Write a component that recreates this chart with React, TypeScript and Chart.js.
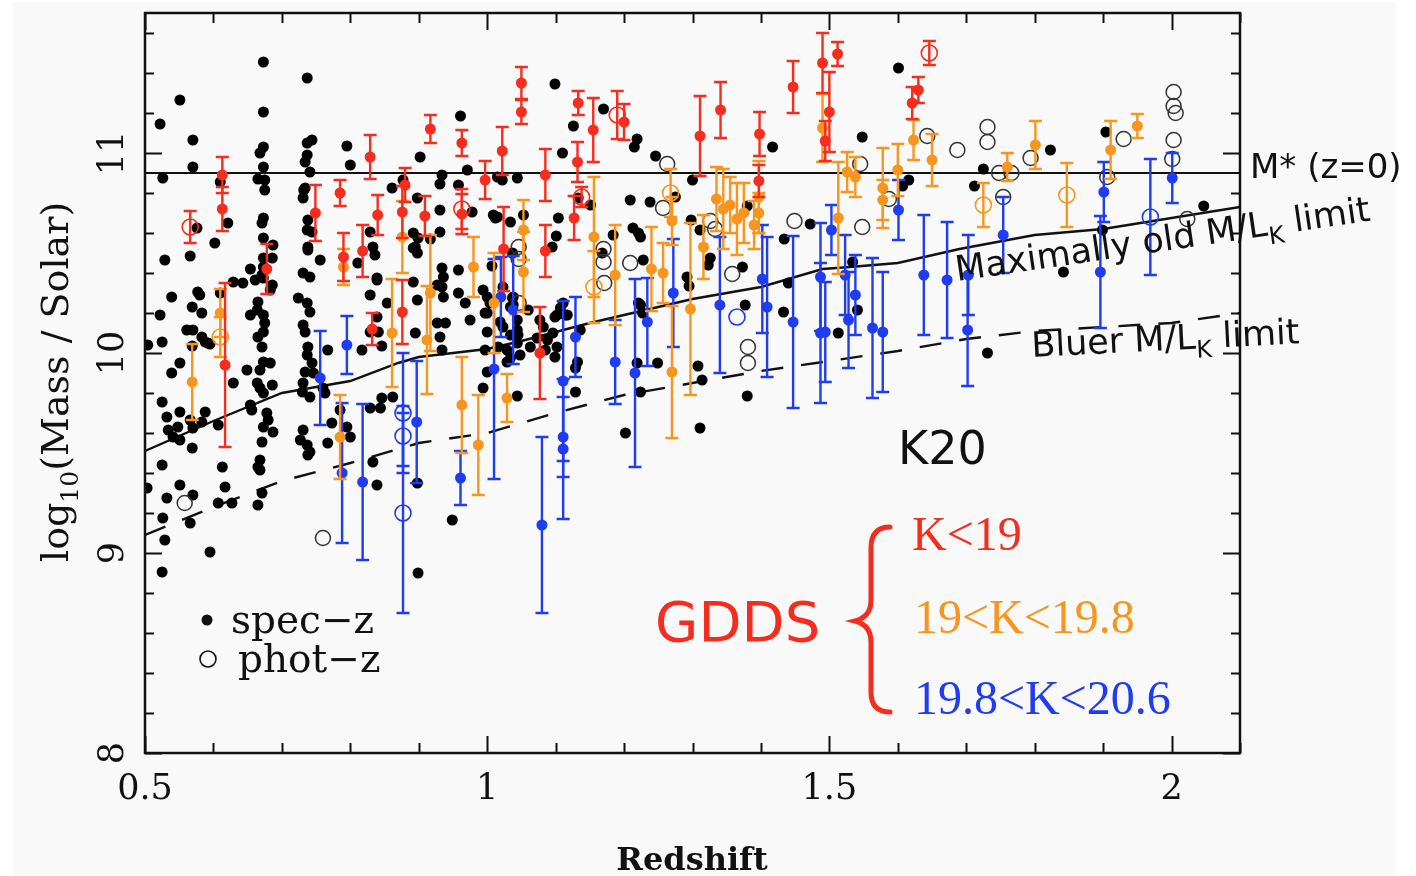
import React, { useEffect, useRef } from 'react';
import { Chart, registerables } from 'chart.js';
Chart.register(...registerables);

// ---------- data (x = redshift, y = log10 mass) ----------
const specZ: number[][] = [
[0.57,10.93],[0.526,10.875],[0.61,10.855],[0.668,11.0],[0.673,10.93],[0.665,10.87],[0.675,10.865],[0.675,10.815],[0.737,10.99],[0.734,10.955],[0.741,10.905],[0.734,10.825],[0.731,10.775],[0.8,10.94],[0.861,10.825],[0.877,10.865],[0.898,10.775],[0.576,10.625],[0.621,10.65],[0.602,10.55],[0.529,10.465],[0.566,10.485],[0.673,10.675],[0.671,10.65],[0.673,10.575],[0.687,10.54],[0.673,10.475],[0.686,10.475],[0.654,10.42],[0.673,10.43],[0.671,10.39],[0.738,10.665],[0.737,10.615],[0.744,10.605],[0.738,10.53],[0.738,10.515],[0.756,10.465],[0.731,10.4],[0.741,10.38],[0.811,10.45],[0.829,10.605],[0.833,10.53],[0.836,10.49],[0.839,10.375],[0.829,10.29],[0.854,10.25],[0.892,10.6],[0.898,10.5],[0.892,10.355],[0.629,10.355],[0.643,10.35],[0.661,10.365],[0.673,10.375],[0.686,10.34],[0.683,10.315],[0.539,10.28],[0.577,10.305],[0.58,10.29],[0.61,10.3],[0.569,10.23],[0.583,10.2],[0.522,10.19],[0.665,10.255],[0.664,10.215],[0.654,10.19],[0.673,10.19],[0.724,10.275],[0.737,10.25],[0.741,10.205],[0.731,10.14],[0.734,10.105],[0.561,10.115],[0.57,10.115],[0.583,10.08],[0.592,10.05],[0.525,10.055],[0.504,10.04],[0.665,10.08],[0.673,10.105],[0.675,10.15],[0.829,10.105],[0.839,10.18],[0.841,10.105],
[0.569,10.035],[0.588,10.055],[0.595,10.045],[0.671,10.03],[0.738,10.03],[0.767,10.015],[0.817,10.015],[0.846,10.035],[0.551,9.95],[0.539,9.9],[0.649,9.915],[0.629,9.85],[0.673,9.955],[0.683,9.95],[0.668,9.915],[0.664,9.85],[0.668,9.825],[0.673,9.8],[0.686,9.84],[0.737,9.99],[0.744,9.95],[0.734,9.905],[0.746,9.9],[0.731,9.85],[0.73,9.805],[0.741,9.78],[0.76,9.825],[0.763,9.8],[0.525,9.755],[0.532,9.68],[0.551,9.705],[0.588,9.705],[0.583,9.655],[0.566,9.665],[0.548,9.63],[0.534,9.615],[0.541,9.58],[0.551,9.565],[0.57,9.625],[0.654,9.74],[0.656,9.715],[0.678,9.7],[0.68,9.665],[0.673,9.63],[0.687,9.605],[0.671,9.555],[0.569,9.525],[0.607,9.64],[0.773,9.65],[0.785,9.715],[0.829,9.725],[0.844,9.725],[0.846,9.775],[0.862,9.78],[0.795,9.63],[0.8,9.58],[0.731,9.615],[0.727,9.565],[0.737,9.54],[0.741,9.505],[0.738,9.49],[0.767,9.55],[0.525,9.44],[0.613,9.43],[0.668,9.465],[0.668,9.415],[0.665,9.43],[0.551,9.34],[0.617,9.33],[0.57,9.29],[0.532,9.275],[0.607,9.25],[0.627,9.25],[0.665,9.24],[0.671,9.3],[0.503,9.325],[0.526,9.175],[0.566,9.15],[0.529,9.065],[0.595,9.005],[0.833,9.455],[0.839,9.34],[0.898,9.35],[0.525,8.905],[0.899,8.9],[0.949,9.165],
[0.522,11.145],[0.551,11.265],[0.673,11.455],[0.737,11.375],[0.673,11.205],[0.57,11.065],[0.673,11.03],[0.737,11.05],[0.744,11.065],[0.795,11.035],[0.902,10.98],[0.961,11.185],[0.971,10.915],[0.934,10.89],[0.931,10.845],[0.732,10.815],[0.839,10.365],[0.931,10.605],[0.931,10.715],[0.958,10.415],[0.895,10.53],[0.917,10.57],[1.007,10.435],[1.009,10.69],[1.015,10.88],
[0.958,10.84],[1.022,10.865],[1.044,10.875],[1.11,11.0],[0.978,10.705],[1.015,10.68],[1.034,10.655],[1.053,10.69],[1.133,10.775],[1.151,10.74],[1.209,10.765],[1.238,10.755],[1.246,10.985],[1.275,10.78],[1.104,10.675],[1.101,10.585],[1.095,10.53],[0.899,10.575],[0.892,10.525],[1.184,10.59],[1.168,10.5],[1.213,10.625],[1.221,10.6],[1.224,10.58],[1.228,10.465],[1.037,10.5],[0.934,10.425],[0.936,10.38],[0.927,10.34],[0.934,10.33],[0.936,10.28],[0.898,10.265],[0.958,10.3],[0.968,10.25],[0.994,10.315],[1.0,10.28],[1.004,10.25],[1.023,10.33],[1.038,10.28],[1.034,10.23],[1.06,10.215],[1.111,10.25],[1.107,10.225],[1.099,10.18],[1.117,10.19],[1.077,10.165],[0.975,10.165],[1.0,10.2],[1.0,10.105],[1.019,10.155],[1.044,10.165],[1.044,10.115],[1.034,10.09],[1.044,10.05],[1.073,10.075],[1.088,10.065],[1.102,10.03],[1.085,10.015],[1.099,9.98],[1.063,10.03],[1.029,10.015],[1.016,10.03],[0.997,10.015],[1.034,9.975],[1.029,9.955],[0.934,10.015],[0.931,10.08],[0.939,10.15],[0.895,10.1],[0.927,10.15],[1.136,10.115],[1.132,9.955],[1.221,10.25],[1.227,10.2],[1.219,9.95],[1.249,9.95],[1.292,10.38],
[1.099,11.345],[1.17,11.22],[1.126,11.135],[1.219,11.07],[1.215,11.03],[1.417,11.03],[1.548,11.08],[1.601,11.425],[1.616,10.865],[1.607,10.835],[1.3,10.865],[1.38,10.735],[1.012,10.675],[1.298,10.665],[1.311,10.615],[1.326,10.475],[1.323,10.44],[1.373,10.43],[1.295,10.335],[1.037,10.275],[1.434,10.57],[1.44,10.35],[1.472,10.645],[1.534,10.455],
[1.377,10.24],[1.433,10.205],[1.541,10.215],[1.513,10.1],
[1.038,10.24],[0.997,10.2],[1.023,10.13],[1.045,10.09],[1.082,10.13],[1.102,10.19],[1.114,10.19],[1.096,10.1],[1.048,9.99],[1.0,9.905],[0.994,9.825],[1.044,9.785],[1.129,9.925],[1.129,9.805],[1.224,10.24],[1.224,9.805],[1.202,9.6],[1.308,9.935],[1.314,9.865],[1.311,9.625],[1.38,9.785],
[1.712,10.835],[1.725,10.92],[1.823,11.015],[1.904,11.105],[2.047,10.735],[1.899,10.615],[1.842,10.405],[1.731,10.0]
];

const photZ: number[][] = [
[1.263,10.945],[1.257,10.725],[1.326,10.66],[1.333,10.62],[1.358,10.395],[1.449,10.66],[1.545,10.945],[1.548,10.63],[1.587,10.77],[1.643,11.085],[1.046,10.53],[1.046,10.47],[1.17,10.52],[1.17,10.455],[1.209,10.45],[1.171,10.35],[1.046,10.25],[1.687,11.015],[1.381,10.03],[1.381,9.95],[1.731,11.13],[1.731,11.055],[1.794,10.975],[1.93,11.07],[2.003,11.305],[2.003,11.235],[2.006,11.2],[2.003,11.065],[2.001,10.97],[1.748,10.9],[1.766,10.9],[1.906,10.88],[1.754,10.78],[2.023,10.67],[0.558,9.25],[0.76,9.075]
];

// [redshift, mass, error]
const redK19: number[][] = [
[0.613,10.89,0.09],[0.613,10.72,0.11],[0.678,10.42,0.125],[0.749,10.7,0.14],[0.785,10.8,0.065],[0.79,10.48,0.12],[0.818,10.51,0.13],[0.84,10.69,0.1],[0.829,10.98,0.11],[0.876,10.205,0.16],[0.876,10.705,0.13],[0.88,10.84,0.085],[0.909,10.685,0.1],[0.917,11.12,0.07],[0.963,11.05,0.065],[0.963,10.695,0.1],[0.997,10.865,0.095],[0.617,9.94,0.41],[0.832,10.12,0.08],[1.022,11.01,0.12],[1.024,10.52,0.21],[1.05,11.35,0.08],[1.05,11.205,0.06],[1.085,10.89,0.13],[1.085,10.51,0.13],[1.133,11.25,0.06],[1.132,10.955,0.1],[1.127,10.675,0.11],[1.155,11.115,0.16],[1.2,11.155,0.09],[1.311,11.085,0.2],[1.341,11.215,0.14],[1.398,11.095,0.11],[1.397,10.86,0.08],[1.447,11.33,0.13],[1.49,11.45,0.15],[1.512,11.495,0.06],[1.5,11.205,0.2],[1.494,11.06,0.1],[1.621,11.25,0.08],[1.63,11.315,0.065],[1.077,10.0,0.23]
];

const orangeK198: number[][] = [
[0.569,9.855,0.19],[0.61,10.2,0.12],[0.79,10.43,0.09],[0.876,10.58,0.18],[0.861,10.1,0.27],[0.917,10.3,0.29],[0.98,10.43,0.15],[0.785,9.58,0.21],[0.963,9.74,0.24],[0.987,9.54,0.25],[0.912,10.065,0.27],[1.01,10.25,0.25],[1.053,10.615,0.15],[1.053,10.405,0.2],[1.156,10.58,0.3],[1.24,10.42,0.21],[1.257,10.4,0.15],[1.27,10.66,0.12],[1.187,10.39,0.25],[1.316,10.53,0.16],[1.335,10.77,0.16],[1.345,10.72,0.2],[1.355,10.74,0.14],[1.365,10.67,0.18],[1.375,10.7,0.15],[1.39,10.64,0.12],[1.397,10.78,0.18],[1.397,10.7,0.1],[1.49,11.125,0.17],[1.513,10.675,0.28],[1.526,10.905,0.1],[1.538,10.88,0.1],[1.578,10.825,0.2],[1.578,10.765,0.1],[1.6,10.915,0.13],[1.623,11.065,0.1],[1.65,10.965,0.13],[1.297,10.22,0.43],[1.27,9.905,0.33],[1.029,9.775,0.12],[1.801,11.04,0.12],[1.76,10.93,0.07],[1.911,11.015,0.145],[1.95,11.135,0.06]
];

const blueK206: number[][] = [
[0.756,9.875,0.235],[0.795,10.04,0.145],[0.788,9.4,0.35],[0.818,9.355,0.39],[0.897,9.655,0.305],[0.961,9.375,0.135],[1.01,9.92,0.55],[1.02,10.28,0.2],[1.038,10.215,0.27],[1.08,9.14,0.44],[1.111,9.86,0.4],[1.111,9.58,0.2],[1.111,9.52,0.35],[1.129,10.08,0.2],[1.187,9.955,0.21],[1.216,9.9,0.47],[1.234,10.155,0.22],[1.34,10.24,0.34],[1.409,10.23,0.35],[1.447,10.155,0.43],[1.487,10.1,0.35],[1.494,10.105,0.25],[1.528,10.165,0.24],[1.563,10.125,0.35],[1.578,10.105,0.3],[1.402,10.37,0.27],[1.487,10.38,0.27],[1.503,10.615,0.125],[1.523,10.39,0.2],[1.538,10.29,0.2],[1.601,10.715,0.15],[1.638,10.39,0.3],[1.672,10.365,0.29],[1.703,10.39,0.2],[1.702,10.115,0.28],[1.754,10.59,0.19],[1.901,10.805,0.15],[1.896,10.405,0.28],[2.001,10.875,0.125],[1.272,10.3,0.27]
];

const redOpen: number[][] = [[0.566,10.63,0.08],[0.963,10.72,0.1],[1.19,11.19,0.12],[1.138,10.78,0.05],[1.646,11.5,0.06]];
const orangeOpen: number[][] = [[0.61,10.08,0.1],[1.156,10.33,0.18],[1.268,10.8,0.12],[1.725,10.74,0.11],[1.847,10.79,0.16]];
const blueOpen: number[][] = [[0.877,9.7,0.3],[0.877,9.585,0.15],[0.877,9.2,0.5],[1.365,10.18,0],[1.969,10.68,0.29]];

const mStarX = [0.5, 2.1];
const mStarY = [10.9, 10.9];
const maxOldX = [0.5,0.6,0.7,0.75,0.8,0.87,0.9,1.0,1.05,1.15,1.25,1.3,1.4,1.49,1.53,1.6,1.69,1.8,1.9,2.1];
const maxOldY = [9.51,9.66,9.8,9.83,9.86,9.95,9.98,10.02,10.06,10.15,10.23,10.27,10.33,10.42,10.43,10.45,10.52,10.59,10.62,10.73];
const bluerX = [0.5,0.6,0.7,0.8,0.9,1.0,1.1,1.2,1.3,1.4,1.5,1.6,1.7,1.8,1.9,2.0,2.1];
const bluerY = [9.09,9.23,9.36,9.45,9.55,9.6,9.7,9.79,9.85,9.91,9.96,10.01,10.07,10.11,10.13,10.15,10.2];

const xTickLabels = ['0.5', '1', '1.5', '2'];
const xTickValues = [0.5, 1, 1.5, 2];
const yTickLabels = ['8', '9', '10', '11'];
const yTickValues = [8, 9, 10, 11];

const C_RED = '#f42d1e';
const C_ORANGE = '#f7961f';
const C_BLUE = '#1f3cf2';

const pts = (a: number[][]) => a.map((p) => ({ x: p[0], y: p[1] }));
const line = (xs: number[], ys: number[]) => xs.map((x, i) => ({ x, y: ys[i] }));

const errorBarPlugin = {
  id: 'errbars',
  beforeDatasetDraw(chart: any, args: any) {
    const ds = chart.data.datasets[args.index];
    if (!ds.errors) return;
    const { ctx, chartArea: a } = chart;
    const xs = chart.scales.x, ys = chart.scales.y;
    ctx.save();
    ctx.beginPath();
    ctx.rect(a.left, a.top, a.right - a.left, a.bottom - a.top);
    ctx.clip();
    ctx.strokeStyle = ds.errColor;
    ctx.lineWidth = 2.4;
    ds.data.forEach((p: any, i: number) => {
      const e = ds.errors[i];
      if (!e) return;
      const px = xs.getPixelForValue(p.x);
      const y1 = ys.getPixelForValue(p.y + e);
      const y2 = ys.getPixelForValue(p.y - e);
      ctx.beginPath();
      ctx.moveTo(px, y1); ctx.lineTo(px, y2);
      ctx.moveTo(px - 6.5, y1); ctx.lineTo(px + 6.5, y1);
      ctx.moveTo(px - 6.5, y2); ctx.lineTo(px + 6.5, y2);
      ctx.stroke();
    });
    ctx.restore();
  },
};

const framePlugin = {
  id: 'frame',
  beforeDraw(chart: any) {
    const { ctx, width, height } = chart;
    ctx.save();
    ctx.fillStyle = '#ffffff';
    ctx.fillRect(0, 0, width, height);
    ctx.fillStyle = '#f9f9f9';
    ctx.fillRect(13, 2, 1383, height - 2);
    ctx.restore();
  },
  afterDraw(chart: any) {
    const { ctx, chartArea: a } = chart;
    const xs = chart.scales.x, ys = chart.scales.y;
    ctx.save();
    ctx.strokeStyle = '#111';
    ctx.lineWidth = 2.5;
    ctx.strokeRect(a.left, a.top, a.right - a.left, a.bottom - a.top);
    ctx.lineWidth = 2;
    ctx.beginPath();
    for (let i = 5; i <= 21; i++) {
      const v = i / 10;
      const px = Math.round(xs.getPixelForValue(v)) + 0.5;
      const len = i % 5 === 0 ? 17 : 10;
      ctx.moveTo(px, a.bottom); ctx.lineTo(px, a.bottom - len);
      ctx.moveTo(px, a.top); ctx.lineTo(px, a.top + len);
    }
    for (let i = 0; i <= 18; i++) {
      const v = 8 + i * 0.2;
      const py = Math.round(ys.getPixelForValue(v)) + 0.5;
      const len = i % 5 === 0 ? 17 : 9;
      ctx.moveTo(a.left, py); ctx.lineTo(a.left + len, py);
      ctx.moveTo(a.right, py); ctx.lineTo(a.right - len, py);
    }
    ctx.stroke();

    // tick labels
    ctx.fillStyle = '#111';
    ctx.font = '35px "DejaVu Serif"';
    ctx.textAlign = 'center';
    ctx.textBaseline = 'alphabetic';
    xTickValues.forEach((v, i) => {
      ctx.fillText(xTickLabels[i], xs.getPixelForValue(v), 799);
    });
    yTickValues.forEach((v, i) => {
      ctx.save();
      ctx.translate(123, ys.getPixelForValue(v));
      ctx.rotate(-Math.PI / 2);
      ctx.fillText(yTickLabels[i], 0, 0);
      ctx.restore();
    });

    // axis titles
    ctx.font = 'bold 32px "DejaVu Serif"';
    ctx.fillText('Redshift', 692, 870);
    ctx.save();
    ctx.translate(68, 562);
    ctx.rotate(-Math.PI / 2);
    ctx.textAlign = 'left';
    ctx.font = '38px "DejaVu Serif"';
    ctx.fillText('log', 0, 0);
    let w = ctx.measureText('log').width;
    ctx.font = '25px "DejaVu Serif"';
    ctx.fillText('10', w, 10);
    w += ctx.measureText('10').width;
    ctx.font = '38px "DejaVu Serif"';
    ctx.fillText('(Mass / Solar)', w, 0);
    ctx.restore();

    // legend
    ctx.textAlign = 'left';
    ctx.beginPath();
    ctx.arc(207, 620, 5.5, 0, Math.PI * 2);
    ctx.fill();
    ctx.beginPath();
    ctx.lineWidth = 1.6;
    ctx.arc(208, 659, 8, 0, Math.PI * 2);
    ctx.stroke();
    ctx.font = '39px "DejaVu Serif"';
    ctx.fillText('spec\u2212z', 231, 633);
    ctx.fillText('phot\u2212z', 238, 672);

    // annotations
    ctx.font = '34px "DejaVu Sans"';
    ctx.fillText('M* (z=0)', 1250, 178);

    const drawSub = (x: number, y: number, ang: number, a1: string, sub: string, a2: string) => {
      ctx.save();
      ctx.translate(x, y);
      ctx.rotate(ang);
      ctx.font = '35px "DejaVu Sans"';
      ctx.fillText(a1, 0, 0);
      let ww = ctx.measureText(a1).width;
      ctx.font = '24px "DejaVu Sans"';
      ctx.fillText(sub, ww, 9);
      ww += ctx.measureText(sub).width;
      ctx.font = '35px "DejaVu Sans"';
      ctx.fillText(a2, ww, 0);
      ctx.restore();
    };
    drawSub(957, 281, -8.3 * Math.PI / 180, 'Maximally old M/L', 'K', ' limit');
    drawSub(1032, 357, -2.9 * Math.PI / 180, 'Bluer M/L', 'K', ' limit');

    ctx.font = '46px "DejaVu Sans"';
    ctx.fillText('K20', 898, 464);

    ctx.fillStyle = C_RED;
    ctx.font = '56px "DejaVu Sans"';
    ctx.fillText('GDDS', 655, 641);

    // brace
    ctx.strokeStyle = C_RED;
    ctx.lineWidth = 5;
    ctx.lineCap = 'round';
    ctx.beginPath();
    ctx.moveTo(890, 527);
    ctx.quadraticCurveTo(871, 527, 871, 548);
    ctx.lineTo(871, 600);
    ctx.quadraticCurveTo(871, 617, 855, 621);
    ctx.quadraticCurveTo(871, 625, 871, 642);
    ctx.lineTo(871, 692);
    ctx.quadraticCurveTo(871, 712, 890, 712);
    ctx.stroke();

    ctx.font = '48px "Liberation Serif"';
    ctx.fillStyle = C_RED;
    ctx.fillText('K<19', 912, 550);
    ctx.fillStyle = C_ORANGE;
    ctx.fillText('19<K<19.8', 914, 633);
    ctx.fillStyle = C_BLUE;
    ctx.fillText('19.8<K<20.6', 914, 714);
    ctx.restore();
  },
};

export default function App() {
  const ref = useRef<HTMLCanvasElement>(null);
  useEffect(() => {
    const canvas = ref.current;
    if (!canvas) return;
    const filled = (arr: number[][], color: string, label: string) => ({
      label,
      data: pts(arr),
      errors: arr.map((p) => p[2]),
      errColor: color,
      pointRadius: 5.5,
      pointBackgroundColor: color,
      pointBorderWidth: 0,
      showLine: false,
    });
    const open = (arr: number[][], color: string, label: string, r: number) => ({
      label,
      data: pts(arr),
      errors: arr.map((p) => p[2]),
      errColor: color,
      pointRadius: r,
      pointBackgroundColor: 'rgba(0,0,0,0)',
      pointBorderColor: color,
      pointBorderWidth: 1.6,
      showLine: false,
    });
    const chart = new Chart(canvas, {
      type: 'scatter',
      data: {
        datasets: [
          filled(redK19, C_RED, 'K<19'),
          filled(orangeK198, C_ORANGE, '19<K<19.8'),
          filled(blueK206, C_BLUE, '19.8<K<20.6'),
          open(redOpen, C_RED, 'K<19 phot', 8),
          open(orangeOpen, C_ORANGE, '19<K<19.8 phot', 8),
          open(blueOpen, C_BLUE, '19.8<K<20.6 phot', 8),
          {
            label: 'phot-z',
            data: pts(photZ),
            pointRadius: 7.5,
            pointBackgroundColor: 'rgba(0,0,0,0)',
            pointBorderColor: '#333',
            pointBorderWidth: 1.5,
            showLine: false,
          },
          {
            label: 'spec-z',
            data: pts(specZ),
            pointRadius: 5.5,
            pointBackgroundColor: '#000',
            pointBorderWidth: 0,
            showLine: false,
          },
          {
            label: 'M* (z=0)',
            data: line(mStarX, mStarY),
            showLine: true,
            pointRadius: 0,
            borderColor: '#111',
            borderWidth: 2.2,
          },
          {
            label: 'Maximally old',
            data: line(maxOldX, maxOldY),
            showLine: true,
            pointRadius: 0,
            borderColor: '#111',
            borderWidth: 2.4,
            tension: 0,
          },
          {
            label: 'Bluer',
            data: line(bluerX, bluerY),
            showLine: true,
            pointRadius: 0,
            borderColor: '#111',
            borderWidth: 2.4,
            borderDash: [22, 18],
            tension: 0,
          },
        ] as any,
      },
      options: {
        animation: false,
        responsive: false,
        devicePixelRatio: 1,
        layout: { padding: { left: 145, top: 13, right: 176, bottom: 123 } },
        scales: {
          x: { type: 'linear', min: 0.5, max: 2.1, display: false },
          y: { type: 'linear', min: 8, max: 11.7, display: false },
        },
        plugins: { legend: { display: false }, tooltip: { enabled: false } },
        events: [],
      },
      plugins: [errorBarPlugin, framePlugin],
    } as any);
    return () => chart.destroy();
  }, []);
  return (
    <canvas
      ref={ref}
      width={1416}
      height={876}
      style={{ position: 'fixed', left: 0, top: 0, width: 1416, height: 876 }}
    />
  );
}
